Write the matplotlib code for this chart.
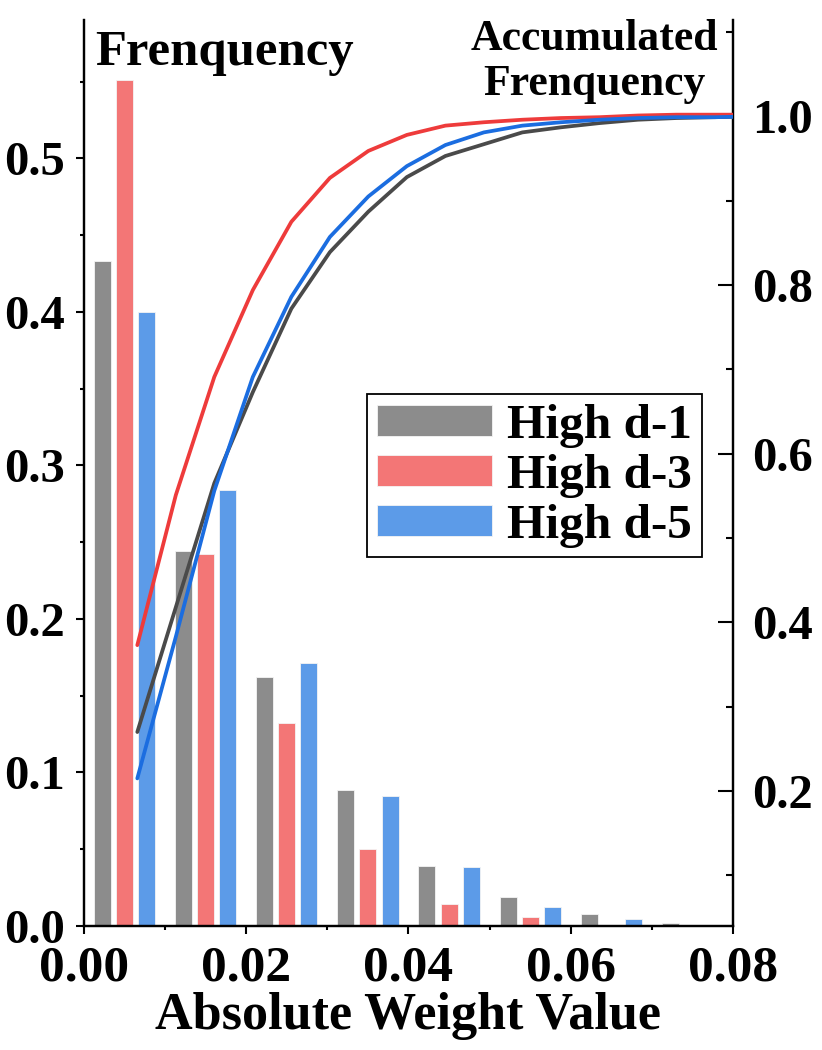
import numpy as np
import matplotlib
matplotlib.use("Agg")
import matplotlib.pyplot as plt
from matplotlib.patches import Patch
from matplotlib.ticker import MultipleLocator, FormatStrFormatter

plt.rcParams['font.family'] = ['Liberation Serif', 'DejaVu Serif']
plt.rcParams['font.weight'] = 'bold'

# histogram bins (left edges) and per-series frequencies
bin_left = [0.00, 0.01, 0.02, 0.03, 0.04, 0.05, 0.06, 0.07]
freq_d1 = [0.433, 0.244, 0.162, 0.0884, 0.0393, 0.0191, 0.0078, 0.0022]
freq_d3 = [0.551, 0.242, 0.132, 0.0503, 0.0143, 0.0059, 0.0007, 0.0002]
freq_d5 = [0.400, 0.284, 0.1715, 0.0849, 0.0382, 0.0122, 0.0046, 0.0007]

# accumulated frequency curves
cum_x = [0.00657, 0.01132, 0.01606, 0.02081, 0.02556, 0.03031, 0.03505, 0.0398,
         0.04455, 0.0493, 0.05404, 0.05879, 0.06354, 0.06829, 0.07303, 0.07778, 0.08253]
cum_d1 = [0.270, 0.418, 0.565, 0.673, 0.772, 0.839, 0.887, 0.928, 0.953,
          0.967, 0.981, 0.987, 0.992, 0.996, 0.998, 0.999, 1.000]
cum_d3 = [0.373, 0.551, 0.691, 0.794, 0.875, 0.927, 0.959, 0.978, 0.989,
          0.993, 0.996, 0.998, 0.999, 1.001, 1.002, 1.002, 1.002]
cum_d5 = [0.215, 0.383, 0.556, 0.691, 0.786, 0.857, 0.905, 0.941, 0.966,
          0.981, 0.989, 0.993, 0.996, 0.998, 0.999, 0.999, 1.000]

labels = ["High d-1", "High d-3", "High d-5"]
bar_colors = ["#8c8c8c", "#f37676", "#5c9be8"]
line_colors = ["#4a4a4a", "#ee3b3b", "#1b6de0"]

fig = plt.figure(figsize=(8.22, 10.5), dpi=100)
ax = fig.add_axes([0.1022, 0.1181, 0.7895, 0.8633])
ax2 = ax.twinx()

centers = np.array(bin_left) + 0.005
offset = 0.00273
for k, (vals, col) in enumerate(zip([freq_d1, freq_d3, freq_d5], bar_colors)):
    ax.bar(centers + (k - 1) * offset, vals, width=0.0021, color=col,
           edgecolor="#f4f4f4", linewidth=0.6, zorder=2)

for vals, col in zip([cum_d1, cum_d3, cum_d5], line_colors):
    ax2.plot(cum_x, vals, color=col, lw=2.7, solid_capstyle='round', zorder=3)

ax.set_xlim(0, 0.08)
ax.set_ylim(0, 0.5904)
ax2.set_ylim(0.040, 1.1148)

ax.xaxis.set_major_locator(MultipleLocator(0.02))
ax.xaxis.set_minor_locator(MultipleLocator(0.01))
ax.xaxis.set_major_formatter(FormatStrFormatter('%.2f'))
ax.yaxis.set_major_locator(MultipleLocator(0.1))
ax.yaxis.set_minor_locator(MultipleLocator(0.05))
ax.yaxis.set_major_formatter(FormatStrFormatter('%.1f'))
ax2.yaxis.set_major_locator(MultipleLocator(0.2))
ax2.yaxis.set_minor_locator(MultipleLocator(0.1))
ax2.yaxis.set_major_formatter(FormatStrFormatter('%.1f'))

for a in (ax, ax2):
    a.spines['top'].set_visible(False)
    for s in a.spines.values():
        s.set_linewidth(1.6)

ax.tick_params(axis='both', which='major', direction='out', length=6,
               width=1.5, labelsize=35, pad=8)
ax.tick_params(axis='both', which='minor', direction='out', length=3, width=1.5)
ax.tick_params(axis='x', which='major', pad=8, labelsize=37)
ax2.tick_params(axis='y', which='major', direction='in', length=11,
                width=1.5, labelsize=35, pad=14)
ax2.tick_params(axis='y', which='minor', direction='in', length=5, width=1.5)

ax.set_xlabel("Absolute Weight Value", fontsize=37.5, fontweight='bold', va='baseline')
ax.xaxis.set_label_coords(0.5, -0.1136)

ax.text(0.017, 0.950, "Frenquency", transform=ax.transAxes, fontsize=36.5,
        fontweight='bold', ha='left', va='baseline')
ax.text(0.7865, 0.9167, "Accumulated\nFrenquency", transform=ax.transAxes,
        fontsize=31.5, fontweight='bold', ha='center', va='baseline',
        multialignment='center', linespacing=1.15)

handles = [Patch(facecolor=c, edgecolor="#f4f4f4", linewidth=0.6) for c in bar_colors]
leg = ax2.legend(handles, labels, loc='upper left', bbox_to_anchor=(0.4356, 0.587),
                 borderaxespad=0, frameon=True, fancybox=False,
                 edgecolor='black', framealpha=1, handlelength=2.35,
                 handleheight=0.58, handletextpad=0.3, labelspacing=0.12,
                 borderpad=0.2, prop={'weight': 'bold', 'size': 35.5})
leg.get_frame().set_linewidth(1.3)

fig.savefig("out.png", dpi=100)
